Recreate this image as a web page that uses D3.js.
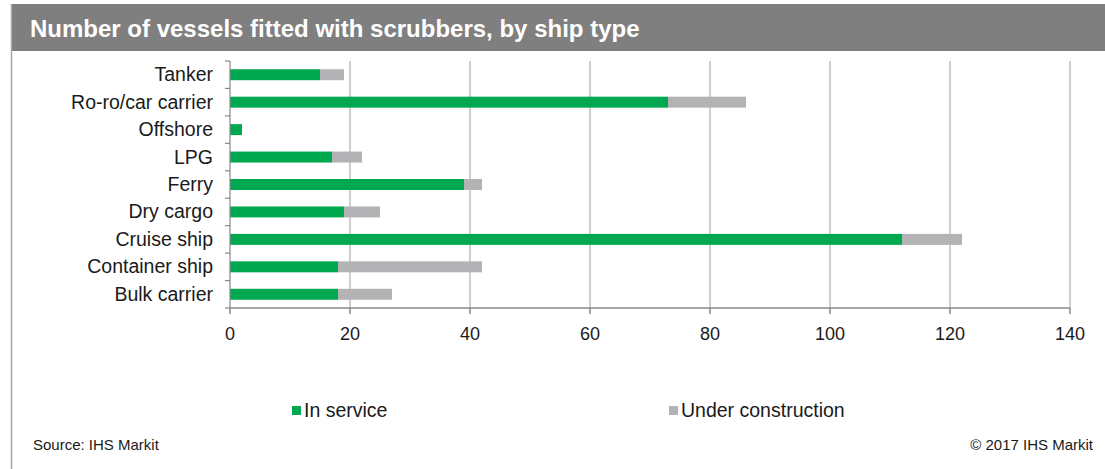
<!DOCTYPE html>
<html><head><meta charset="utf-8">
<script src="https://cdn.jsdelivr.net/npm/d3@7/dist/d3.min.js"></script>
<style>
html,body{margin:0;padding:0;background:#fff;}
svg{display:block;font-family:"Liberation Sans",Arial,sans-serif;}
</style></head>
<body>
<svg id="c" width="1105" height="469"></svg>
<script>
const categories = ["Tanker","Ro-ro/car carrier","Offshore","LPG","Ferry","Dry cargo","Cruise ship","Container ship","Bulk carrier"];
const inService = [15,73,2,17,39,19,112,18,18];
const underConstruction = [4,13,0,5,3,6,10,24,9];
const xTicks = [0,20,40,60,80,100,120,140];
const seriesNames = ["In service","Under construction"];
const colors = ["#00a84f","#b3b3b6"];

const svg = d3.select("#c");
// frame
svg.append("rect").attr("x",11).attr("y",4).attr("width",1094).attr("height",47).attr("fill","#7f7f7f");
svg.append("line").attr("x1",11.5).attr("x2",11.5).attr("y1",4).attr("y2",469).attr("stroke","#a6a6a6").attr("stroke-width",1.5);
svg.append("text").attr("x",30).attr("y",37).attr("fill","#fff").attr("font-size",24).attr("font-weight","bold")
  .text("Number of vessels fitted with scrubbers, by ship type");

const x = d3.scaleLinear().domain([0,140]).range([230,1070]);
const y = d3.scaleBand().domain(categories).range([61,308]).paddingInner(0.6).paddingOuter(0.3);
const band = d3.scaleBand().domain(categories).range([61,308]);

// gridlines
svg.append("g").selectAll("line").data(xTicks.slice(1)).join("line")
  .attr("x1",d=>x(d)).attr("x2",d=>x(d)).attr("y1",61).attr("y2",308)
  .attr("stroke","#bfbfbf").attr("stroke-width",1.5);

const stacked = categories.map((c,i)=>({c, a:inService[i], b:underConstruction[i]}));
svg.append("g").selectAll("rect").data(stacked).join("rect")
  .attr("x",x(0)).attr("y",d=>y(d.c)).attr("height",y.bandwidth())
  .attr("width",d=>x(d.a)-x(0)).attr("fill",colors[0]);
svg.append("g").selectAll("rect").data(stacked.filter(d=>d.b>0)).join("rect")
  .attr("x",d=>x(d.a)).attr("y",d=>y(d.c)).attr("height",y.bandwidth())
  .attr("width",d=>x(d.a+d.b)-x(d.a)).attr("fill",colors[1]);

// y axis
const yAxis = svg.append("g").attr("transform",`translate(${x(0)},0)`);
yAxis.append("line").attr("x1",0).attr("x2",0).attr("y1",61).attr("y2",308).attr("stroke","#888").attr("stroke-width",1.2);
const tickYs = categories.map(c=>band(c)).concat([308]);
yAxis.selectAll(".t").data(tickYs).join("line").attr("class","t")
  .attr("x1",-5).attr("x2",0).attr("y1",d=>d).attr("y2",d=>d).attr("stroke","#888").attr("stroke-width",1.2);
yAxis.selectAll("text").data(categories).join("text")
  .attr("x",-17).attr("y",d=>band(d)+band.bandwidth()/2+6.5)
  .attr("text-anchor","end").attr("font-size",19.5).attr("fill","#1a1a1a").text(d=>d);

// x axis
const xAxis = svg.append("g").attr("transform","translate(0,308)");
xAxis.append("line").attr("x1",x(0)).attr("x2",x(140)).attr("y1",0).attr("y2",0).attr("stroke","#888").attr("stroke-width",1.5);
xAxis.selectAll(".t").data(xTicks).join("line").attr("class","t")
  .attr("x1",d=>x(d)).attr("x2",d=>x(d)).attr("y1",0).attr("y2",6).attr("stroke","#888").attr("stroke-width",1.5);
xAxis.selectAll("text").data(xTicks).join("text")
  .attr("x",d=>x(d)).attr("y",32).attr("text-anchor","middle").attr("font-size",18).attr("fill","#1a1a1a").text(d=>d);

// legend
const legX = [292,669];
const leg = svg.append("g").selectAll("g").data(seriesNames).join("g")
  .attr("transform",(d,i)=>`translate(${legX[i]},0)`);
leg.append("rect").attr("x",0).attr("y",406).attr("width",9).attr("height",9).attr("fill",(d,i)=>colors[i]);
leg.append("text").attr("x",12).attr("y",417).attr("font-size",19.5).attr("fill","#1a1a1a").text(d=>d);

// footer
svg.append("text").attr("x",33).attr("y",450).attr("font-size",15).attr("fill","#1a1a1a").text("Source: IHS Markit");
svg.append("text").attr("x",1093).attr("y",450).attr("text-anchor","end").attr("font-size",15).attr("fill","#1a1a1a").text("© 2017 IHS Markit");
</script>
</body></html>
